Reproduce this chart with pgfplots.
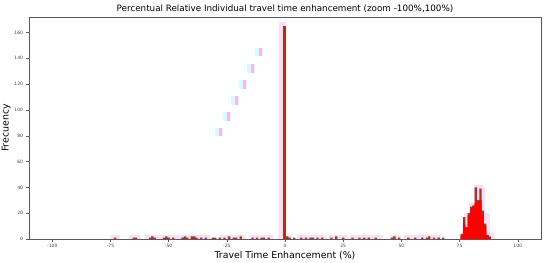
\documentclass[border=0pt]{standalone}
\usepackage{pgfplots}
\pgfplotsset{compat=1.18}
\usepackage{fontspec}
\setmainfont{DejaVu Sans}

\definecolor{histbrown}{HTML}{9A3A1E}
\definecolor{histred}{HTML}{FF0000}
\definecolor{pinkband}{HTML}{FCDDF4}
\definecolor{cyanblk}{HTML}{D2FFFF}
\definecolor{pinkblk}{HTML}{F8B8EE}
\definecolor{spine}{HTML}{5A5A5A}

\begin{document}
\begin{tikzpicture}
\useasboundingbox (-29bp,-24bp) rectangle (521bp,239bp);
\begin{axis}[
  at={(0,0)}, anchor=south west,
  scale only axis,
  width=512bp, height=222bp,
  xmin=-110, xmax=110,
  ymin=0, ymax=172,
  axis line style={spine, line width=0.5pt},
  xtick={-100,-75,...,100},
  ytick={0,20,...,160},
  tick align=outside, tick pos=left,
  major tick length=2.5bp,
  tick style={spine, line width=0.4pt},
  tick label style={font=\fontsize{4.5}{5}\selectfont, text=black!75},
  /pgf/number format/assume math mode=true,
  xticklabel style={yshift=1bp},
  title={Percentual Relative Individual travel time enhancement (zoom -100\%,100\%)},
  every axis title/.style={at={(0.5,1)}, anchor=base, yshift=5bp, font=\fontsize{8.8}{10}\selectfont},
  xlabel={Travel Time Enhancement (\%)},
  xlabel style={font=\fontsize{9.4}{10}\selectfont, at={(0.5,0)}, anchor=north, yshift=-8.5bp},
  ylabel={Frecuency},
  ylabel style={font=\fontsize{9.4}{10}\selectfont, at={(0,0.5)}, anchor=south, yshift=15bp},
  clip=true,
]
% light pink shading behind the histograms
\addplot[ybar interval, fill=pinkband, draw=none] coordinates {
  (-75,3) (-71,0) (-67,3) (-62,0) (-60,3) (-32,0) (-28,3) (-17,0)
  (-15,3) (-5,0) (-3,3) (-2.6,168) (0.6,3) (3,0) (5,3) (18,0) (19,3) (27,0)
  (28,3) (42,0) (45,3) (50,0) (51,3) (67,0) (75,3) (77,20) (79,28) (81,42)
  (85,40) (86,20) (88,5) (90,0)
};
% brown histogram
\addplot[ybar, bar shift=0pt, bar width=1, fill=histbrown, draw=none] coordinates {
  (-73,1) (-65,1) (-64,1) (-58,1) (-57,2) (-56,1) (-52,1) (-51,2) (-50,1)
  (-48,1) (-44,1) (-43,2) (-42,1) (-40,2) (-39,2) (-38,1) (-36,1) (-34,1)
  (-31,1) (-30,1) (-28,1) (-26,1) (-24,2) (-22,1) (-21,1) (-19,2) (-14,1)
  (-12,1) (-10,1) (-9,1) (-7,1) (1,2) (2,1) (4,1) (7,1) (9,1) (11,1) (12,1)
  (14,1) (16,1) (20,1) (22,2) (25,1) (29,1) (32,1) (34,1) (36,1) (39,1)
  (46,1) (47,2) (49,1) (53,1) (56,1) (59,1) (61,1) (62,2) (64,1) (66,1)
  (68,1) (76,4) (77,17) (78,9) (79,20) (80,25) (81,26) (82,40) (83,30)
  (84,39) (85,22) (86,12) (87,3) (88,2)
};
\addplot[ybar, bar shift=0pt, bar width=1.4, fill=histbrown, draw=none] coordinates {(-0.3,165)};
% red histogram
\addplot[ybar, bar shift=0pt, bar width=1, fill=histred, draw=none] coordinates {
  (76,3) (77,12) (78,9) (79,18) (80,22) (81,25) (82,28) (83,30) (84,30)
  (85,18) (86,10) (87,3) (88,1)
};
\addplot[ybar, bar shift=0pt, bar width=0.4, fill=histred!35!histbrown, draw=none] coordinates {(-0.3,163)};
% cyan / pink blocks
\addplot[only marks, color=cyanblk, mark=square*, mark size=3.4bp, mark options={fill=cyanblk, draw=none, yscale=1.1}] coordinates {
  (-11.3,145) (-14.7,132.5) (-18.2,120) (-21.7,107.6) (-25.2,95.2) (-28.6,83)
};
\addplot[only marks, color=pinkblk, mark=square*, mark size=3.4bp, mark options={fill=pinkblk, draw=none, xscale=0.3, yscale=1.1}] coordinates {
  (-10.6,145) (-14.0,132.5) (-17.5,120) (-21.0,107.6) (-24.5,95.2) (-27.9,83)
};
\end{axis}
\end{tikzpicture}
\end{document}
